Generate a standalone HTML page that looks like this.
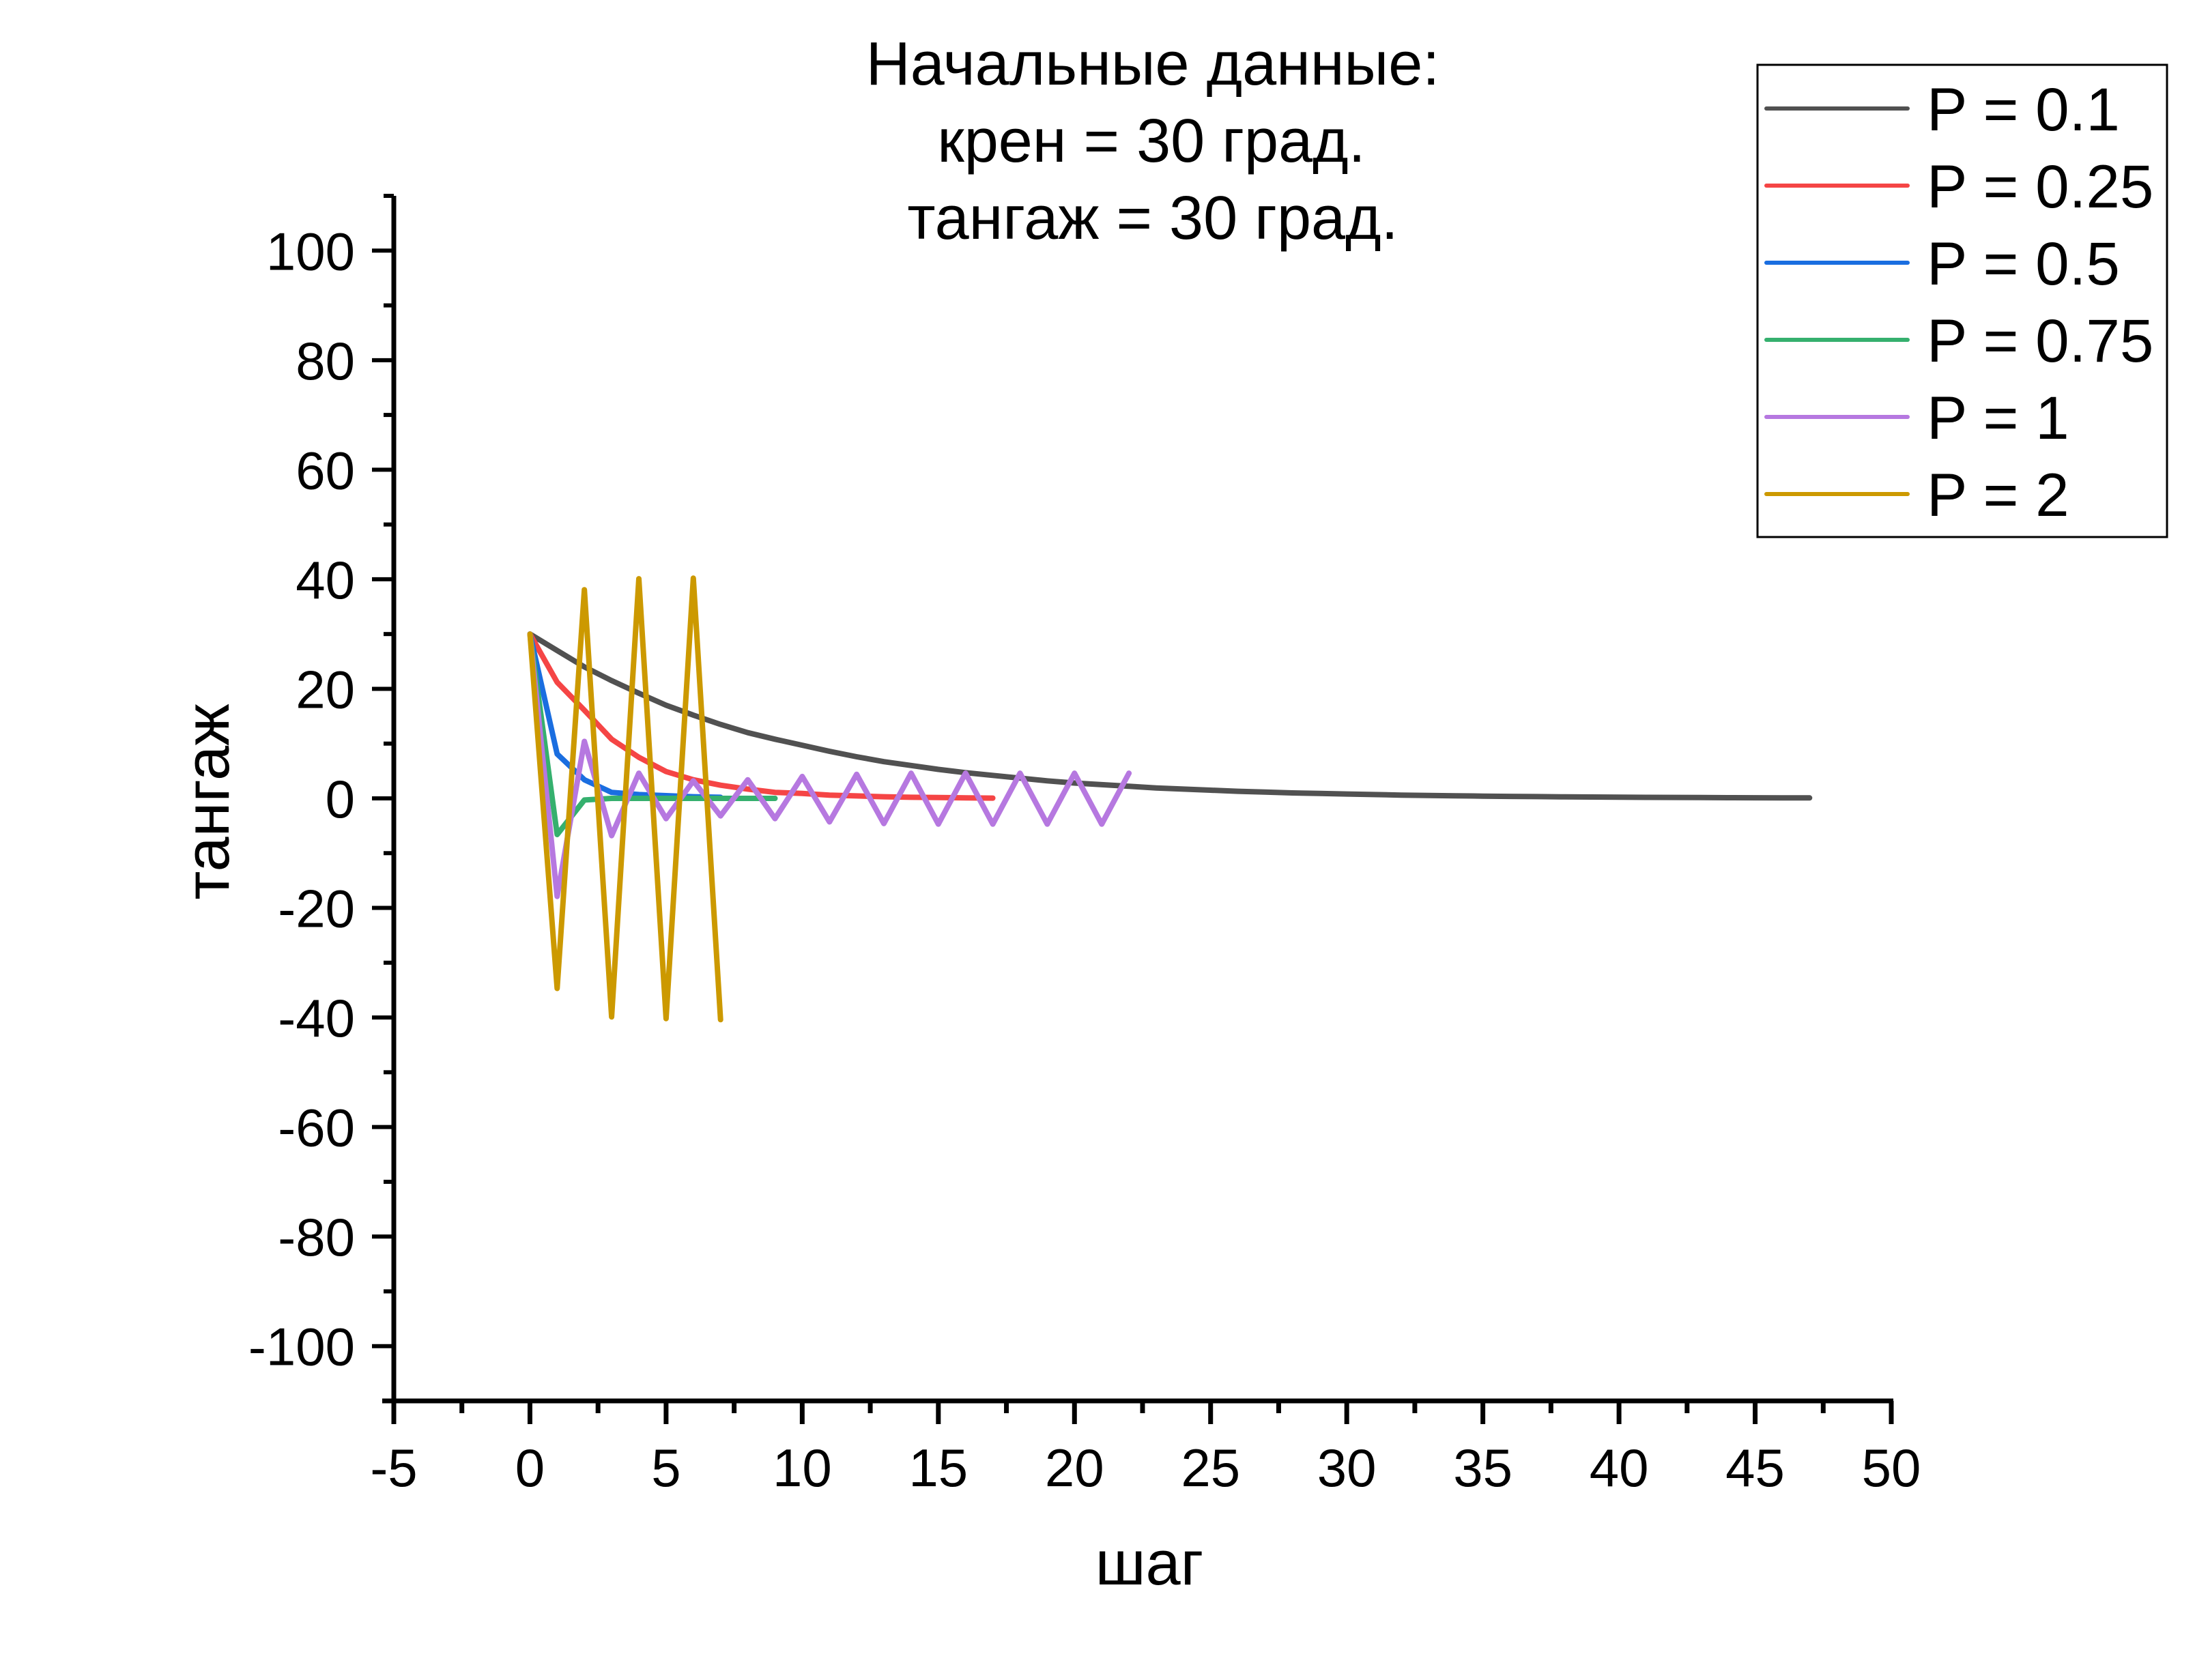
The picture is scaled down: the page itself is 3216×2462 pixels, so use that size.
<!DOCTYPE html>
<html><head><meta charset="utf-8"><style>
html,body{margin:0;padding:0;background:#fff;}
svg{display:block;font-family:"Liberation Sans",Arial,sans-serif;}
</style></head><body>
<svg id="chart" width="3216" height="2462" viewBox="0 0 3216 2462">
<g font-size="90" text-anchor="middle" fill="#000">
<text x="1689" y="124">Начальные данные:</text>
<text x="1687" y="237">крен = 30 град.</text>
<text x="1689" y="350">тангаж = 30 град.</text>
</g>
<g id="axes"></g>
<g id="series"></g>
<text x="1684" y="2322" font-size="92" text-anchor="middle">шаг</text>
<text x="0" y="0" font-size="92" text-anchor="middle" transform="translate(335,1175) rotate(-90)">тангаж</text>
<g id="legend"></g>
</svg>
<script>
const xTicks = [-5,0,5,10,15,20,25,30,35,40,45,50];
const yTicks = [-100,-80,-60,-40,-20,0,20,40,60,80,100];
const seriesNames = ["P = 0.1","P = 0.25","P = 0.5","P = 0.75","P = 1","P = 2"];
const seriesColors = ["#515151","#f54545","#1a6ee0","#35b06e","#b678e0","#cc9900"];
const sP01 = [30,27,24,21.5,19.2,17,15.2,13.5,12,10.8,9.7,8.6,7.6,6.7,6.0,5.3,4.7,4.2,3.7,3.2,2.8,2.5,2.2,1.9,1.7,1.5,1.3,1.15,1.0,0.9,0.8,0.7,0.6,0.53,0.47,0.41,0.36,0.32,0.28,0.25,0.22,0.19,0.17,0.15,0.13,0.11,0.1,0.09];
const sP025 = [30,21.2,16.1,10.8,7.5,4.9,3.4,2.4,1.7,1.1,0.9,0.6,0.45,0.3,0.2,0.15,0.1,0.05];
const sP05 = [30,8.1,3.4,1.1,0.7,0.5,0.3,0.2];
const sP075 = [30,-6.6,-0.3,0,0,0,0,0,0,0];
const sP1 = [30,-17.9,10.4,-6.8,4.6,-3.7,3.2,-3.2,3.4,-3.7,4.0,-4.3,4.4,-4.6,4.6,-4.7,4.6,-4.7,4.6,-4.7,4.6,-4.7,4.6];
const sP2 = [30,-34.7,38.1,-39.9,40.1,-40.2,40.2,-40.4];
const allSeries = [sP01,sP025,sP05,sP075,sP1,sP2];

const NS="http://www.w3.org/2000/svg";
const X0=577, X1=2771, XMIN=-5, XMAX=50;
const Y0=2053, Y1=287, YMIN=-110, YMAX=110;
function sx(v){return X0+(v-XMIN)/(XMAX-XMIN)*(X1-X0);}
function sy(v){return Y0-(v-YMIN)/(YMAX-YMIN)*(Y0-Y1);}
function mk(tag,attrs,parent){const e=document.createElementNS(NS,tag);for(const k in attrs)e.setAttribute(k,attrs[k]);parent.appendChild(e);return e;}

const axes=document.getElementById('axes');
let l;
l=mk('line',{x1:X0,y1:Y1,x2:X0,y2:Y0+3,stroke:'#000','stroke-width':7},axes);


l=mk('line',{x1:X0-17,y1:Y0,x2:X1+3,y2:Y0,stroke:'#000','stroke-width':7},axes);


for(let i=0;i<xTicks.length;i++){
  const x=sx(xTicks[i]);
  const t=mk('line',{x1:x,y1:Y0,x2:x,y2:Y0+34,stroke:'#000','stroke-width':7},axes);
  
  
  const lb=mk('text',{x:x,y:2178,'font-size':78,'text-anchor':'middle'},axes);
  lb.textContent=xTicks[i];
  
  
  if(i<xTicks.length-1){
    const xm=sx(xTicks[i]+2.5);
    const m=mk('line',{x1:xm,y1:Y0,x2:xm,y2:Y0+18,stroke:'#000','stroke-width':7},axes);
    
    
  }
}
for(let v=-110; v<=110; v+=10){
  const y=sy(v);
  const major=yTicks.indexOf(v)>=0;
  const t=mk('line',{x1:X0-(major?32:15),y1:y,x2:X0,y2:y,stroke:'#000','stroke-width':6},axes);
  
  
}
for(let i=0;i<yTicks.length;i++){
  const lb=mk('text',{x:520,y:sy(yTicks[i])+28,'font-size':78,'text-anchor':'end'},axes);
  lb.textContent=yTicks[i];
  
  
}
const sg=document.getElementById('series');
const keys=['p-0-1','p-0-25','p-0-5','p-0-75','p-1','p-2'];
for(let s=0;s<allSeries.length;s++){
  const d=allSeries[s].map((v,i)=>(i?'L':'M')+sx(i).toFixed(1)+','+sy(v).toFixed(1)).join(' ');
  const p=mk('path',{d:d,fill:'none',stroke:seriesColors[s],'stroke-width':8,'stroke-linejoin':'round','stroke-linecap':'round'},sg);
  
  
}
const lg=document.getElementById('legend');
const box=mk('rect',{x:2575,y:95,width:600,height:692,fill:'#fff',stroke:'#000','stroke-width':3},lg);


for(let s=0;s<seriesNames.length;s++){
  const y=159+s*113;
  const ln=mk('line',{x1:2588,y1:y,x2:2795,y2:y,stroke:seriesColors[s],'stroke-width':6,'stroke-linecap':'round'},lg);
  
  
  const tx=mk('text',{x:2823,y:y+32,'font-size':89},lg);
  tx.textContent=seriesNames[s];
  
  
}
</script>
</body></html>
